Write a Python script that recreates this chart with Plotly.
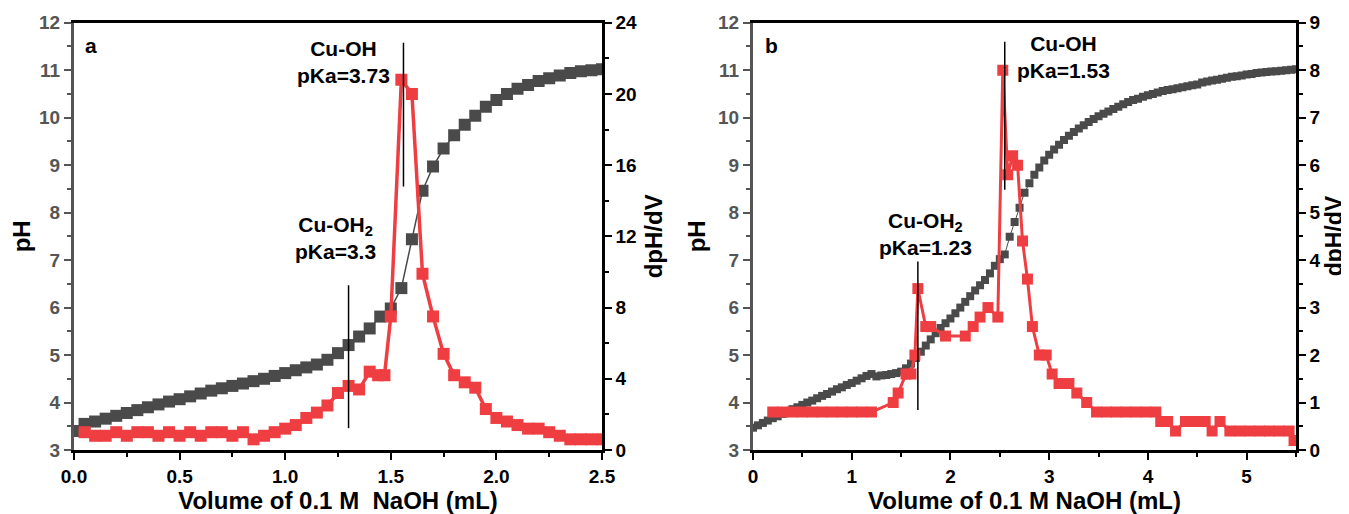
import plotly.graph_objects as go

# ---------------- Panel a data ----------------
vol_a_ph = [0.00,0.05,0.10,0.15,0.20,0.25,0.30,0.35,0.40,0.45,0.50,0.55,0.60,0.65,0.70,0.75,0.80,0.85,0.90,0.95,
            1.00,1.05,1.10,1.15,1.20,1.25,1.30,1.35,1.40,1.45,1.50,1.55,1.60,1.65,1.70,1.75,1.80,1.85,1.90,1.95,
            2.00,2.05,2.10,2.15,2.20,2.25,2.30,2.35,2.40,2.45,2.50]
ph_a = [3.40,3.55,3.60,3.66,3.72,3.78,3.84,3.90,3.96,4.02,4.07,4.13,4.19,4.25,4.30,4.35,4.40,4.45,4.50,4.56,
        4.62,4.68,4.74,4.80,4.90,5.04,5.21,5.39,5.56,5.81,5.98,6.41,7.44,8.46,8.97,9.35,9.63,9.85,10.04,10.23,
        10.37,10.50,10.61,10.69,10.77,10.83,10.89,10.94,10.98,11.00,11.02]

vol_a_d = [0.05,0.10,0.15,0.20,0.25,0.30,0.35,0.40,0.45,0.50,0.55,0.60,0.65,0.70,0.75,0.80,0.85,0.90,0.95,
           1.00,1.05,1.10,1.15,1.20,1.25,1.30,1.35,1.40,1.44,1.47,1.50,1.55,1.60,1.65,1.70,1.75,1.80,1.85,1.90,1.95,
           2.00,2.05,2.10,2.15,2.20,2.25,2.30,2.35,2.40,2.45,2.50]
dpdv_a = [1.0,0.8,0.8,1.0,0.8,1.0,1.0,0.8,1.0,0.8,1.0,0.8,1.0,1.0,0.8,1.0,0.6,0.8,1.0,
          1.2,1.4,1.8,2.1,2.5,3.2,3.6,3.4,4.4,4.2,4.2,7.5,20.8,20.0,9.9,7.5,5.4,4.2,3.8,3.5,2.3,
          1.8,1.6,1.4,1.2,1.2,1.0,0.8,0.6,0.6,0.6,0.6]

# ---------------- Panel b data ----------------
vol_b_ph = [0.00,0.05,0.10,0.15,0.20,0.25,0.30,0.35,0.40,0.45,0.50,0.55,0.60,0.65,0.70,0.75,0.80,0.85,0.90,0.95,
            1.00,1.05,1.10,1.15,1.20,1.25,1.30,1.35,1.40,1.45,1.50,1.55,1.60,1.65,1.70,1.75,1.80,1.85,1.90,1.95,
            2.00,2.05,2.10,2.15,2.20,2.25,2.30,2.35,2.40,2.45,2.50,2.55,2.60,2.65,2.70,2.75,2.80,2.85,2.90,2.95,
            3.00,3.05,3.10,3.15,3.20,3.25,3.30,3.35,3.40,3.45,3.50,3.55,3.60,3.65,3.70,3.75,3.80,3.85,3.90,3.95,
            4.00,4.05,4.10,4.15,4.20,4.25,4.30,4.35,4.40,4.45,4.50,4.55,4.60,4.65,4.70,4.75,4.80,4.85,4.90,4.95,
            5.00,5.05,5.10,5.15,5.20,5.25,5.30,5.35,5.40,5.45,5.50]
ph_b = [3.47,3.52,3.57,3.62,3.67,3.71,3.76,3.81,3.86,3.90,3.95,4.00,4.04,4.09,4.14,4.18,4.23,4.28,4.32,4.37,
        4.41,4.46,4.51,4.56,4.60,4.55,4.57,4.58,4.60,4.62,4.65,4.72,4.82,4.94,5.07,5.20,5.33,5.46,5.57,5.67,
        5.77,5.88,6.00,6.12,6.24,6.36,6.47,6.58,6.72,6.88,7.02,7.12,7.49,7.80,8.10,8.42,8.62,8.80,8.95,9.10,
        9.22,9.33,9.43,9.53,9.62,9.70,9.77,9.84,9.91,9.97,10.03,10.08,10.13,10.18,10.23,10.28,10.33,10.37,10.40,10.44,
        10.47,10.50,10.53,10.56,10.58,10.60,10.62,10.64,10.66,10.68,10.70,10.74,10.76,10.78,10.80,10.82,10.84,10.86,10.87,10.89,
        10.91,10.92,10.94,10.95,10.96,10.97,10.98,10.99,11.00,11.01,11.02]

vol_b_d = [0.20,0.30,0.40,0.50,0.60,0.70,0.80,0.90,1.00,1.10,1.20,
           1.42,1.47,1.55,1.60,1.64,1.67,1.75,1.80,1.95,2.15,2.23,2.30,2.38,2.48,
           2.53,2.58,2.63,2.68,2.73,2.78,2.83,2.90,2.97,3.03,3.10,3.20,3.28,3.38,3.48,
           3.58,3.68,3.78,3.88,3.98,4.08,4.13,4.20,4.28,4.38,4.48,4.58,4.65,4.73,4.83,
           4.93,5.03,5.13,5.23,5.33,5.43,5.48]
dpdv_b = [0.8,0.8,0.8,0.8,0.8,0.8,0.8,0.8,0.8,0.8,0.8,
          1.0,1.2,1.6,1.6,2.0,3.4,2.6,2.6,2.4,2.4,2.6,2.8,3.0,2.8,
          8.0,5.8,6.2,6.0,4.4,3.6,2.6,2.0,2.0,1.6,1.4,1.4,1.2,1.0,0.8,
          0.8,0.8,0.8,0.8,0.8,0.8,0.6,0.6,0.4,0.6,0.6,0.6,0.4,0.6,0.4,
          0.4,0.4,0.4,0.4,0.4,0.4,0.2]

# pKa marker lines (x, y0, y1 on the pH axis)
vlines_a = [(1.30, 3.46, 6.47), (1.56, 8.55, 11.58)]
vlines_b = [(1.67, 3.84, 6.97), (2.55, 8.48, 11.60)]

# annotation texts
ann_a = [("<b>a</b>", 0.08, 11.53), ("<b>Cu-OH<br>pKa=3.73</b>", 1.274, 11.17),
         ("<b>Cu-OH<sub>2</sub><br>pKa=3.3</b>", 1.236, 7.47)]
ann_b = [("<b>b</b>", 0.19, 11.53), ("<b>Cu-OH<br>pKa=1.53</b>", 3.14, 11.28),
         ("<b>Cu-OH<sub>2</sub><br>pKa=1.23</b>", 1.745, 7.55)]

DARK = "#4a4a4a"
RED = "#ef3e42"
AXGRAY = "#555555"
FONT = "Arial, 'Liberation Sans', sans-serif"

# page body adds an 8px offset; figure is sized so it fits the 1349x514 window
W, H = 1341, 506
OFF = 8
dom_a = [(74 - OFF) / W, (602 - OFF) / W]
dom_b = [(753 - OFF) / W, (1296 - OFF) / W]
dom_y = [(H - (450 - OFF)) / H, (H - (22.7 - OFF)) / H]

fig = go.Figure()

fig.add_trace(go.Scatter(x=vol_a_ph, y=ph_a, mode="lines+markers", xaxis="x", yaxis="y",
                         line=dict(color=DARK, width=1.5),
                         marker=dict(symbol="square", size=12, color=DARK), showlegend=False))
fig.add_trace(go.Scatter(x=vol_a_d, y=dpdv_a, mode="lines+markers", xaxis="x", yaxis="y2",
                         line=dict(color=RED, width=3.5),
                         marker=dict(symbol="square", size=12, color=RED), showlegend=False))
fig.add_trace(go.Scatter(x=vol_b_ph, y=ph_b, mode="lines+markers", xaxis="x2", yaxis="y3",
                         line=dict(color=DARK, width=1),
                         marker=dict(symbol="square", size=8, color=DARK), showlegend=False))
fig.add_trace(go.Scatter(x=vol_b_d, y=dpdv_b, mode="lines+markers", xaxis="x2", yaxis="y4",
                         line=dict(color=RED, width=3),
                         marker=dict(symbol="square", size=11, color=RED), showlegend=False))

shapes = []
for (xv, y0, y1) in vlines_a:
    shapes.append(dict(type="line", xref="x", yref="y", x0=xv, x1=xv, y0=y0, y1=y1,
                       line=dict(color="black", width=1.5)))
for (xv, y0, y1) in vlines_b:
    shapes.append(dict(type="line", xref="x2", yref="y3", x0=xv, x1=xv, y0=y0, y1=y1,
                       line=dict(color="black", width=1.5)))

annotations = []
for (t, xv, yv) in ann_a:
    annotations.append(dict(text=t, x=xv, y=yv, xref="x", yref="y", showarrow=False,
                            font=dict(family=FONT, size=21, color="black"), align="center"))
for (t, xv, yv) in ann_b:
    annotations.append(dict(text=t, x=xv, y=yv, xref="x2", yref="y3", showarrow=False,
                            font=dict(family=FONT, size=21, color="black"), align="center"))

titlef = dict(family=FONT, size=24, color="black", weight="bold")
ymid = (dom_y[0] + dom_y[1]) / 2
# right-hand axis titles (dpH/dV), placed beside the right tick labels
for xpx, fs in ((653, 24), (1334, 23)):
    annotations.append(dict(text="dpH/dV", x=(xpx - OFF) / W, y=ymid, xref="paper", yref="paper",
                            textangle=-90, showarrow=False, xanchor="center", yanchor="middle",
                            font=dict(family=FONT, size=fs, color="black", weight="bold")))

tickf_black = dict(family=FONT, size=19, color="black", weight="bold")
tickf_gray = dict(family=FONT, size=19, color=AXGRAY, weight="bold")

def xax(domain, rng, dtick, mdtick, anchor, title, fmt):
    return dict(domain=domain, range=rng, dtick=dtick, tick0=0, anchor=anchor, tickformat=fmt,
                showline=True, linecolor="black", linewidth=2.5, mirror=True,
                ticks="outside", ticklen=7, tickwidth=2, tickcolor="black",
                minor=dict(ticks="outside", dtick=mdtick, ticklen=4, tickwidth=2, tickcolor="black"),
                showgrid=False, zeroline=False, tickfont=tickf_black,
                title=dict(text=title, font=titlef, standoff=0), automargin=False)

def yleft(rng, anchor):
    return dict(domain=dom_y, range=rng, dtick=1, tick0=0, anchor=anchor,
                showline=True, linecolor=AXGRAY, linewidth=3,
                ticks="outside", ticklen=7, tickwidth=2, tickcolor=AXGRAY,
                minor=dict(ticks="outside", dtick=0.5, ticklen=4, tickwidth=2, tickcolor=AXGRAY),
                showgrid=False, zeroline=False, tickfont=tickf_gray,
                title=dict(text="pH", font=titlef, standoff=6), automargin=False)

def yright(rng, dtick, mdtick, anchor, overlay):
    return dict(domain=dom_y, range=rng, dtick=dtick, tick0=0, anchor=anchor, overlaying=overlay,
                side="right", showline=True, linecolor="black", linewidth=2.5,
                ticks="outside", ticklen=7, tickwidth=2, tickcolor="black",
                minor=dict(ticks="outside", dtick=mdtick, ticklen=4, tickwidth=2, tickcolor="black"),
                showgrid=False, zeroline=False, tickfont=tickf_black, automargin=False)

fig.update_layout(
    width=W, height=H,
    margin=dict(l=0, r=0, t=0, b=0),
    paper_bgcolor="white", plot_bgcolor="white",
    font=dict(family=FONT),
    xaxis=xax(dom_a, [0, 2.5], 0.5, 0.25, "y", "Volume of 0.1 M&nbsp;&nbsp;NaOH (mL)", ".1f"),
    yaxis=yleft([3, 12], "x"),
    yaxis2=yright([0, 24], 4, 2, "x", "y"),
    xaxis2=xax(dom_b, [0, 5.5], 1, 0.5, "y3", "Volume of 0.1 M NaOH (mL)", "d"),
    yaxis3=yleft([3, 12], "x2"),
    yaxis4=yright([0, 9], 1, 0.5, "x2", "y3"),
    shapes=shapes,
    annotations=annotations,
)

fig.write_html("out.html")
